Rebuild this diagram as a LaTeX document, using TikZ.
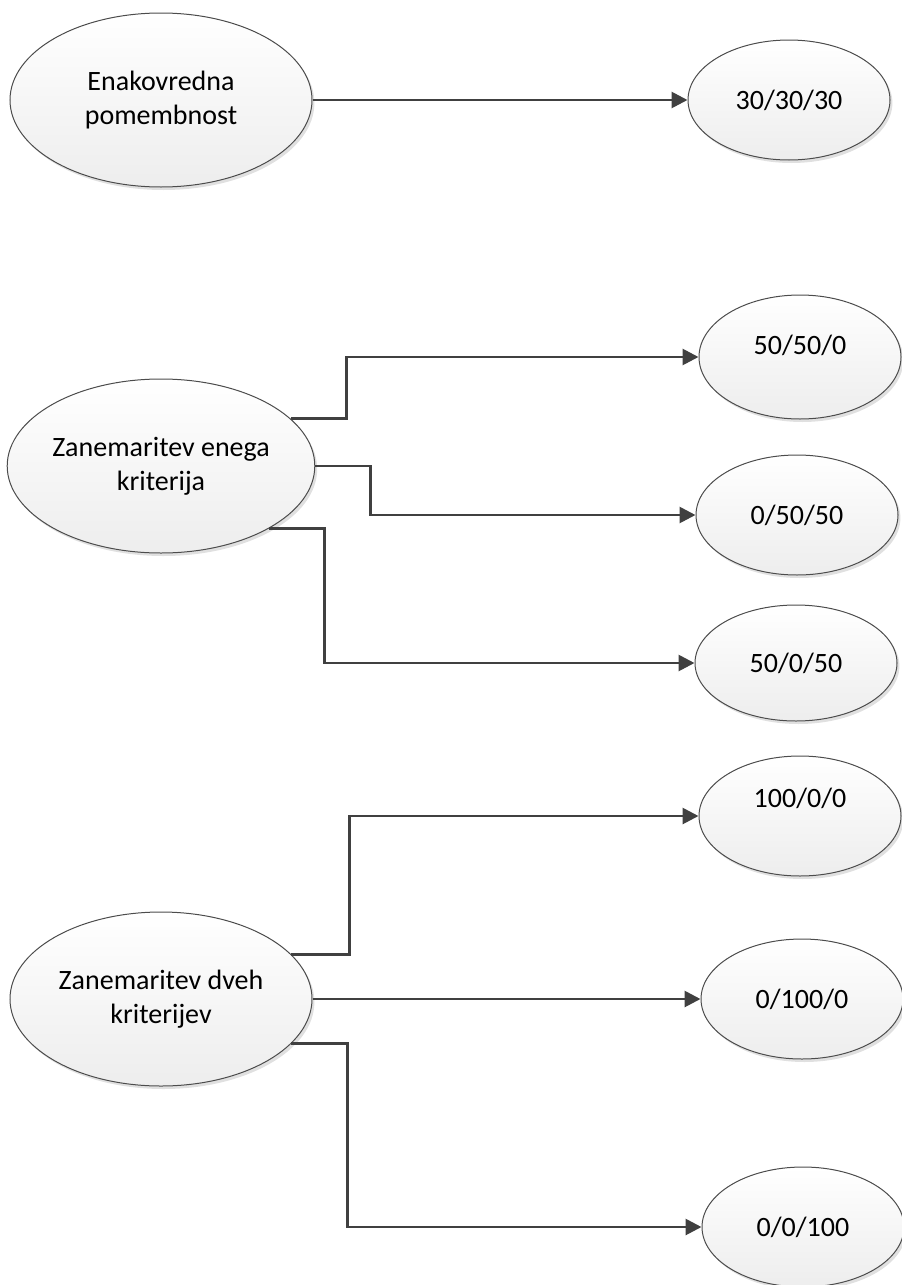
\documentclass[tikz,border=0pt]{standalone}
\usepackage{fontspec}
\setmainfont{Carlito}
\usepackage{xcolor}
\usetikzlibrary{positioning,shapes.geometric,arrows.meta,shadows}
\definecolor{linegray}{HTML}{404040}

\begin{document}
\begin{tikzpicture}[
    x=0.5pt, y=-0.5pt,
    state/.style={ellipse, draw=black!70, line width=0.5pt, top color=white, bottom color=black!7, align=center, inner sep=0pt, font=\fontsize{14}{17}\selectfont, drop shadow={shadow xshift=1.2pt, shadow yshift=-1.5pt, opacity=0.12, fill=black}},
    bigstate/.style={state, minimum width=151pt, minimum height=87pt},
    smallstate/.style={state, minimum width=101pt, minimum height=60pt},
    arrow/.style={line width=1.4pt, color=linegray, -{Triangle[length=8pt,width=8pt]}}
]
\useasboundingbox (0,0) rectangle (901,1285);

% Define criteria nodes
\node [bigstate] (equal) at (161,100) {Enakovredna\\pomembnost};
\node [bigstate] (one) at (161,466) {Zanemaritev enega\\kriterija};
\node [bigstate] (two) at (161,999) {Zanemaritev dveh\\kriterijev};

% Define weight nodes
\node [smallstate] (w303030) at (789,100) {30/30/30};
\node [smallstate, minimum height=62pt, text depth=12pt] (w50500) at (800,357) {50/50/0};
\node [smallstate] (w05050) at (797,515) {0/50/50};
\node [smallstate, minimum height=58pt] (w50050) at (796,663) {50/0/50};
\node [smallstate, text depth=18pt] (w10000) at (800,816) {100/0/0};
\node [smallstate] (w01000) at (802,999) {0/100/0};
\node [smallstate] (w00100) at (803,1227) {0/0/100};

% Draw connectors
\draw [arrow] (equal.east) -- (w303030.west);
\draw [arrow] (one.20) -- ++(56,0) |- (w50500.west);
\draw [arrow] (one.east) -- ++(55,0) |- (w05050.west);
\draw [arrow] (one.-30) -- ++(55,0) |- (w50050.west);
\draw [arrow] (two.19) -- ++(58,0) |- (w10000.west);
\draw [arrow] (two.east) -- (w01000.west);
\draw [arrow] (two.-19) -- ++(56,0) |- (w00100.west);

\end{tikzpicture}
\end{document}
